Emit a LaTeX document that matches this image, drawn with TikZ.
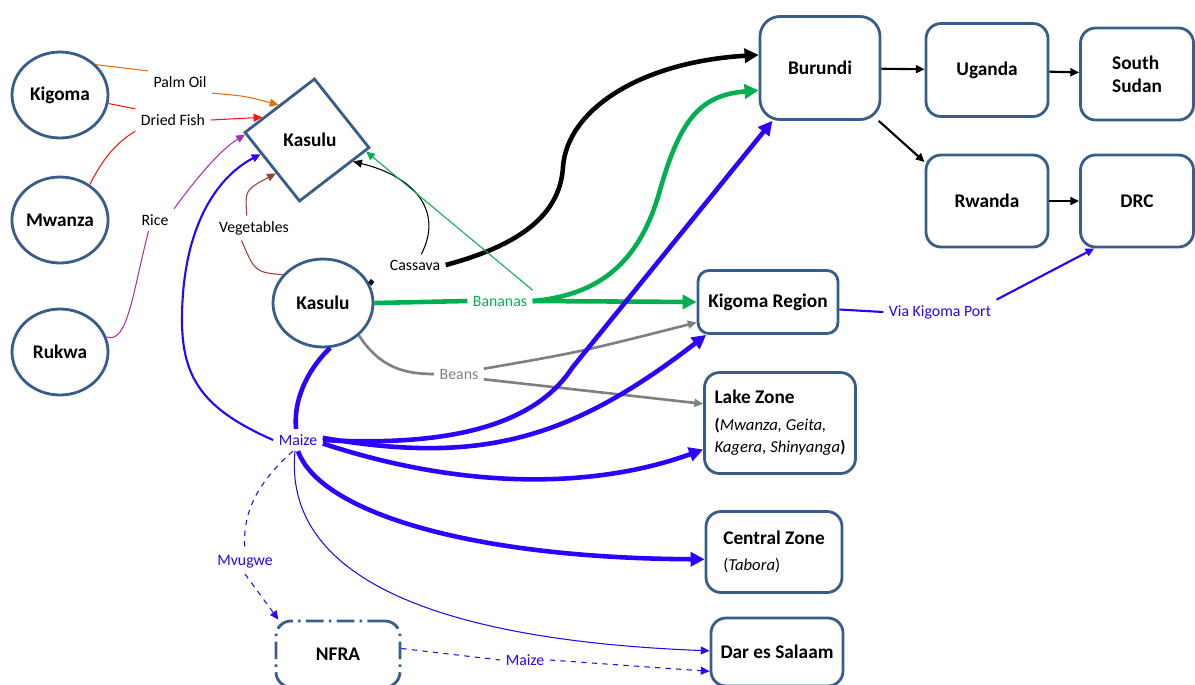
\documentclass[tikz,border=0pt]{standalone}
\usepackage{fontspec}
\setmainfont{Carlito}
\usetikzlibrary{shapes.geometric, arrows.meta}
\definecolor{boxline}{RGB}{56,93,138}
\definecolor{maizeblue}{RGB}{45,0,255}
\definecolor{bananagreen}{RGB}{0,176,80}
\definecolor{oilorange}{RGB}{228,108,10}
\definecolor{fishred}{RGB}{255,20,20}
\definecolor{ricepurple}{RGB}{170,50,170}
\definecolor{vegbrown}{RGB}{150,65,55}
\definecolor{beangray}{RGB}{128,128,128}
\newcommand{\subnote}[1]{{\fontsize{9.5}{12.5}\selectfont #1}}
\tikzset{
    region/.style={draw=boxline, ellipse, line width=1.6pt, inner sep=0pt, minimum width=1.92cm, minimum height=1.72cm, font=\bfseries\fontsize{11}{13}\selectfont},
    hub/.style={draw=boxline, diamond, line width=1.6pt, minimum width=2.52cm, minimum height=2.48cm, inner sep=0pt},
    market/.style={draw=boxline, rectangle, rounded corners=0.3cm, line width=1.6pt, align=left, font=\bfseries\fontsize{11}{13}\selectfont},
    flow/.style={font=\fontsize{9}{10}\selectfont, inner sep=3pt},
    heavy/.style={line width=2.6pt},
    medium/.style={line width=1.2pt},
    fine/.style={line width=0.6pt},
    arrow/.style={-{Triangle[length=5pt,width=4.5pt]}},
    bigarrow/.style={-{Triangle[length=8pt,width=8pt]}}
}
\begin{document}
\begin{tikzpicture}[x=0.02cm, y=-0.02cm]
\useasboundingbox (0,0) rectangle (1195,684);

\node[region] (kig) at (60,95) {Kigoma};
\node[region] (mwa) at (60,220) {Mwanza};
\node[region] (ruk) at (60,352) {Rukwa};
\node[region, minimum width=2cm, minimum height=1.76cm] (kas) at (323,303) {Kasulu};
\node[hub, rotate=-7] (kasd) at (307,140) {};
\node[font=\bfseries\fontsize{11}{13}\selectfont] (kasdname) at (310,140) {Kasulu};

\node[market, minimum width=2.4cm, minimum height=2.06cm, rounded corners=0.4cm] (bur) at (820,68) {Burundi};
\node[market, minimum width=2.44cm, minimum height=1.86cm] (uga) at (987,70) {Uganda};
\node[market, minimum width=2.26cm, minimum height=1.84cm] (ssd) at (1137,74) {South\\Sudan};
\node[market, minimum width=2.44cm, minimum height=1.84cm] (rwa) at (987,201) {Rwanda};
\node[market, minimum width=2.26cm, minimum height=1.84cm] (drc) at (1137,201) {DRC};
\node[market, minimum width=2.8cm, minimum height=1.26cm, rounded corners=0.22cm] (kreg) at (768,302) {Kigoma Region};
\node[market, minimum width=3.02cm, minimum height=2.02cm] (lake) at (780,423) {Lake Zone\\[2pt]\subnote{(\textit{\mdseries Mwanza, Geita,}}\\\subnote{\textit{\mdseries Kagera, Shinyanga})}};
\node[market, minimum width=2.72cm, minimum height=1.62cm] (cen) at (774,552) {Central Zone\\[2pt]\subnote{\mdseries(\textit{Tabora})}};
\node[market, minimum width=2.64cm, minimum height=1.36cm] (dar) at (777,652) {Dar es Salaam};
\node[market, dash pattern=on 10pt off 3pt on 1.5pt off 3pt, minimum width=2.48cm, minimum height=1.32cm] (nfra) at (338,654) {NFRA};

\node[flow] (palm) at (180,82) {Palm Oil};
\node[flow] (fish) at (173,120) {Dried Fish};
\node[flow] (rice) at (155,220) {Rice};
\node[flow] (veg) at (254,228) {Vegetables};
\node[flow] (cas) at (415,265) {Cassava};
\node[flow, text=bananagreen] (ban) at (500,301) {Bananas};
\node[flow, text=beangray] (bean) at (459,374) {Beans};
\node[flow, text=maizeblue] (maz) at (298,440) {Maize};
\node[flow, text=maizeblue] (mvu) at (245,562) {Mvugwe};
\node[flow, text=maizeblue] (maz2) at (525,660) {Maize};
\node[flow, text=maizeblue] (port) at (940,312) {Via Kigoma Port};

\draw[oilorange, fine] (kig.40) -- (palm.north west);
\draw[oilorange, fine, arrow] (palm.south east) .. controls (245,96) .. (kasd.136);
\draw[fishred, fine] (kig.-10) -- (fish.north west);
\draw[fishred, fine] (mwa.50) .. controls (100,165) and (112,145) .. (fish.south west);
\draw[fishred, fine, arrow] (fish.east) -- (kasd.160);
\draw[ricepurple, fine] (ruk.18) .. controls (128,345) and (133,290) .. (rice.240);
\draw[ricepurple, fine, arrow] (rice.north east) .. controls (195,180) and (220,150) .. (kasd.182);
\draw[vegbrown, fine] (kas.145) .. controls (255,272) .. (veg.225);
\draw[vegbrown, fine, arrow] (veg.120) .. controls (245,190) .. (kasd.234);

\draw[heavy, shorten >=11pt] (kas.22) -- (cas.west);
\draw[fine, arrow] (cas.60) .. controls (442,215) and (420,178) .. (kasd.-18);
\draw[heavy, bigarrow] (cas.east) .. controls (520,245) and (560,215) .. (563,167) .. controls (567,110) and (640,62) .. (bur.168);

\draw[bananagreen, heavy] (kas.east) -- (ban.west);
\draw[bananagreen, heavy, bigarrow] (ban.east) -- (kreg.west);
\draw[bananagreen, heavy, bigarrow] (ban.east) .. controls (600,295) and (640,262) .. (660,190) .. controls (680,120) and (700,95) .. (bur.200);
\draw[bananagreen, fine, arrow] (ban.north east) -- (kasd.-4);

\draw[beangray, line width=1.5pt] (kas.-42) .. controls (380,368) and (405,374) .. (bean.west);
\draw[beangray, line width=1.5pt, arrow] (bean.12) .. controls (580,352) .. (kreg.196);
\draw[beangray, line width=1.5pt, arrow] (bean.-12) .. controls (580,390) .. (lake.166);

\draw[maizeblue, heavy] (kas.-81) .. controls (312,365) and (293,395) .. (maz.100);
\draw[maizeblue, medium, arrow] (maz.west) .. controls (205,410) and (182,380) .. (182,320) .. controls (182,230) and (215,178) .. (kasd.204);
\draw[maizeblue, heavy, bigarrow] (maz.east) .. controls (450,447) and (535,425) .. (572,368) -- (bur.228);
\draw[maizeblue, heavy, bigarrow] (maz.5) .. controls (480,465) and (570,440) .. (kreg.208);
\draw[maizeblue, heavy, bigarrow] (maz.-8) .. controls (470,492) and (600,487) .. (lake.199);
\draw[maizeblue, heavy, bigarrow] (maz.south) .. controls (320,512) and (470,558) .. (cen.186);
\draw[maizeblue, fine, arrow] (maz.255) .. controls (283,575) and (430,640) .. (dar.179);
\draw[maizeblue, fine, dashed] (maz.245) .. controls (255,485) and (242,515) .. (mvu.north);
\draw[maizeblue, fine, dashed, arrow] (mvu.south) -- (nfra.150);
\draw[maizeblue, fine, dashed] (nfra.5) -- (maz2.west);
\draw[maizeblue, fine, dashed, arrow] (maz2.east) -- (dar.196);
\draw[maizeblue, medium] (kreg.-6) -- (port.west);
\draw[maizeblue, medium, arrow] (port.north east) -- (drc.228);

\draw[medium, arrow] (bur) -- (uga);
\draw[medium, arrow] (uga) -- (ssd);
\draw[medium, arrow] (bur.-42) -- (rwa.148);
\draw[medium, arrow] (rwa) -- (drc);
\end{tikzpicture}
\end{document}
